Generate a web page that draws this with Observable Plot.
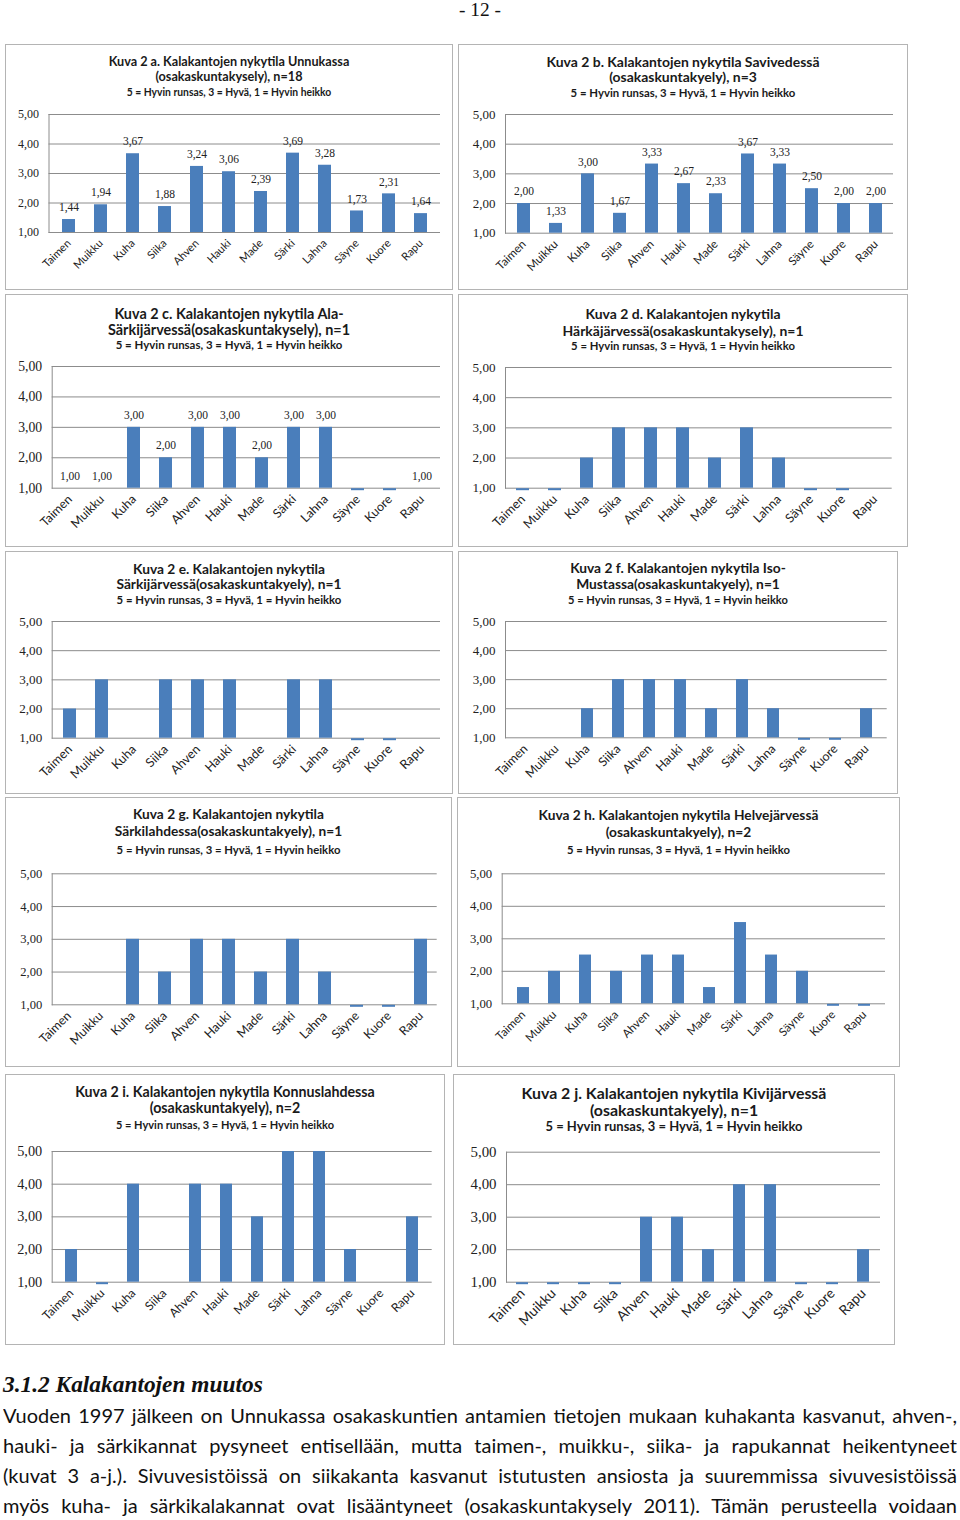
<!DOCTYPE html>
<html><head><meta charset="utf-8">
<script src="https://cdn.jsdelivr.net/npm/d3@7"></script>
<script src="https://cdn.jsdelivr.net/npm/@observablehq/plot@0.6"></script>
<style>
html,body{margin:0;padding:0;background:#fff;}
#page{position:relative;width:960px;height:1520px;overflow:hidden;background:#fff;}
.box{position:absolute;box-shadow:inset 0 0 0 1px #b4b4b4;background:#fff;}
.t{position:absolute;left:0;right:0;text-align:center;font-family:Lato,sans-serif;font-weight:700;color:#1a1a1a;white-space:nowrap;line-height:1;}
.box svg{position:absolute;left:0;top:0;}
.line{position:absolute;left:3px;width:954px;font-family:Lato,sans-serif;color:#111;text-align:justify;text-align-last:justify;line-height:1;overflow:hidden;}
</style></head><body><div id="page"></div>
<script>
// ---- data ----
const species = ["Taimen","Muikku","Kuha","Siika","Ahven","Hauki","Made","Särki","Lahna","Säyne","Kuore","Rapu"];
const yTicks = [1,2,3,4,5];
const subtitle = "5 = Hyvin runsas, 3 = Hyvä, 1 = Hyvin heikko";
// null = no bar, 0 = thin sliver on the axis
const valuesA = [1.44,1.94,3.67,1.88,3.24,3.06,2.39,3.69,3.28,1.73,2.31,1.64];
const valuesB = [2.00,1.33,3.00,1.67,3.33,2.67,2.33,3.67,3.33,2.50,2.00,2.00];
const valuesC = [1,1,3,2,3,3,2,3,3,0,0,1];
const valuesD = [0,0,2,3,3,3,2,3,2,0,0,null];
const valuesE = [2,3,null,3,3,3,null,3,3,0,0,null];
const valuesF = [null,null,2,3,3,3,2,3,2,0,0,2];
const valuesG = [null,null,3,2,3,3,2,3,2,0,0,3];
const valuesH = [1.5,2,2.5,2,2.5,2.5,1.5,3.5,2.5,2,0,0];
const valuesI = [2,0,4,null,4,4,3,5,5,2,null,3];
const valuesJ = [0,0,0,0,3,3,2,4,4,0,0,2];
const titleA = ["Kuva 2 a. Kalakantojen nykytila Unnukassa","(osakaskuntakysely), n=18"];
const titleB = ["Kuva 2 b. Kalakantojen nykytila Savivedessä","(osakaskuntakyely), n=3"];
const titleC = ["Kuva 2 c. Kalakantojen nykytila Ala-","Särkijärvessä(osakaskuntakysely), n=1"];
const titleD = ["Kuva 2 d. Kalakantojen nykytila","Härkäjärvessä(osakaskuntakysely), n=1"];
const titleE = ["Kuva 2 e. Kalakantojen nykytila","Särkijärvessä(osakaskuntakyely), n=1"];
const titleF = ["Kuva 2 f. Kalakantojen nykytila Iso-","Mustassa(osakaskuntakyely), n=1"];
const titleG = ["Kuva 2 g. Kalakantojen nykytila","Särkilahdessa(osakaskuntakyely), n=1"];
const titleH = ["Kuva 2 h. Kalakantojen nykytila Helvejärvessä","(osakaskuntakyely), n=2"];
const titleI = ["Kuva 2 i. Kalakantojen nykytila Konnuslahdessa","(osakaskuntakyely), n=2"];
const titleJ = ["Kuva 2 j. Kalakantojen nykytila Kivijärvessä","(osakaskuntakyely), n=1"];
const pageNumber = "- 12 -";
const heading = "3.1.2 Kalakantojen muutos";
const bodyLines = [
 "Vuoden 1997 jälkeen on Unnukassa osakaskuntien antamien tietojen mukaan kuhakanta kasvanut, ahven-,",
 "hauki- ja särkikannat pysyneet entisellään, mutta taimen-, muikku-, siika- ja rapukannat heikentyneet",
 "(kuvat 3 a-j.). Sivuvesistöissä on siikakanta kasvanut istutusten ansiosta ja suuremmissa sivuvesistöissä",
 "myös kuha- ja särkikalakannat ovat lisääntyneet (osakaskuntakysely 2011). Tämän perusteella voidaan"
];

// ---- layout (page pixels) ----
const panels = [
 {values:valuesA,title:titleA,labels:true, box:[5,44,453,290], plot:[48.5,440,114,232],   ty:[62,77,93],        w1:241,w3:205,yw:21,xfs:11},
 {values:valuesB,title:titleB,labels:true, box:[458,44,908,290],plot:[505,893,114,232.7],  ty:[63,78,93],        w1:273,w3:225,yw:22.7,xfs:11.6},
 {values:valuesC,title:titleC,labels:true, box:[5,294,453,547], plot:[51.7,440,366,487.7], ty:[315,330.7,345],   w1:230,w3:227,yw:24,xfs:12.4},
 {values:valuesD,title:titleD,labels:false,box:[458,294,908,547],plot:[505,891.7,367,487.7],ty:[315,331.7,346], w1:195,w3:224,yw:23,xfs:12.6},
 {values:valuesE,title:titleE,labels:false,box:[5,551,453,794], plot:[51.7,440,621,737.7], ty:[569.3,585,600],   w1:192,w3:225,yw:23,xfs:12.6},
 {values:valuesF,title:titleF,labels:false,box:[458,551,898,794],plot:[505,886.7,621,737.3],ty:[569,585,600],    w1:216,w3:220,yw:22.7,xfs:12.4},
 {values:valuesG,title:titleG,labels:false,box:[5,797,452,1067], plot:[51.7,436.7,873.3,1004.3],ty:[815,831.7,850],w1:191,w3:224,yw:22,xfs:12.4},
 {values:valuesH,title:titleH,labels:false,box:[457,797,900,1067],plot:[501.7,885,873.3,1003.3],ty:[815.7,832.3,850],w1:280,w3:223,yw:22.3,xfs:11.6},
 {values:valuesI,title:titleI,labels:false,box:[5,1074,445,1345],plot:[51.7,431.7,1151,1281.7],ty:[1092.7,1109.3,1125],w1:300,w3:218,yw:25,xfs:12.1},
 {values:valuesJ,title:titleJ,labels:false,box:[453,1074,895,1345],plot:[506,880,1151.7,1281.7],ty:[1094,1110.7,1127.3],w1:305,w3:257,yw:26,xfs:13.8}
];
const barColor = "#4a7ebb";
const gridColor = "#8c8c8c";
const numFont = "'Liberation Serif', serif";
const catFont = "Lato, sans-serif";
const fmt = v => v.toFixed(2).replace(".", ",");

const ctx = document.createElement("canvas").getContext("2d");
function fit(text, family, weight, target, style = "normal") {
  ctx.font = `${style} ${weight} 100px ${family}`;
  return 100 * target / ctx.measureText(text).width;
}

const page = document.getElementById("page");

// page number
{
  const fs = fit(pageNumber, "'Liberation Serif'", 400, 42);
  const d = document.createElement("div");
  d.textContent = pageNumber;
  Object.assign(d.style, {position:"absolute", left:"0", width:"960px", textAlign:"center", top:(10 - fs*0.55)+"px",
    fontFamily:"'Liberation Serif',serif", fontSize:fs+"px", lineHeight:"1.1", color:"#111"});
  page.appendChild(d);
}

panels.forEach(p => {
  const [bl, bt, br, bb] = p.box;
  const W = br - bl, H = bb - bt;
  const [pl, pr, py5, py1] = p.plot;
  const box = document.createElement("div");
  box.className = "box";
  Object.assign(box.style, {left: bl+"px", top: bt+"px", width: W+"px", height: H+"px"});
  page.appendChild(box);

  const data = species.map((s, i) => ({s, v: p.values[i]}));
  const bars = data.filter(d => d.v != null && d.v >= 1);
  const slivers = data.filter(d => d.v === 0);
  const yfs = fit("5,00", "'Liberation Serif'", 400, p.yw);

  const marks = [
    Plot.ruleY(yTicks, {stroke: gridColor, strokeWidth: 1}),
    Plot.frame({anchor: "left", stroke: gridColor}),
    Plot.barY(bars, {x: "s", y1: 1, y2: "v", fill: barColor}),
    Plot.tickY(slivers, {x: "s", y: 1, stroke: barColor, strokeWidth: 2, dy: 1}),
    Plot.axisY(yTicks, {tickSize: 0, tickPadding: 10, tickFormat: fmt, fontFamily: numFont, fontSize: yfs, fill: "#222", label: null}),
    Plot.axisX({tickSize: 0, tickPadding: 9, tickRotate: -45, fontFamily: catFont, fontSize: p.xfs, fill: "#222", label: null})
  ];
  if (p.labels) {
    marks.push(Plot.text(bars, {x: "s", y: "v", text: d => fmt(d.v), dy: -12, fontFamily: numFont, fontSize: 11.5, fill: "#222"}));
  }
  const svg = Plot.plot({
    width: W, height: H,
    marginLeft: pl - bl, marginRight: br - pr, marginTop: py5 - bt, marginBottom: bb - py1,
    style: {background: "transparent", overflow: "visible"},
    x: {domain: species, paddingInner: 0.6, paddingOuter: 0.3, label: null},
    y: {domain: [1, 5], label: null},
    marks
  });
  box.appendChild(svg);

  const fs1 = fit(p.title[0], "Lato", 700, p.w1);
  const fs3 = fit(subtitle, "Lato", 700, p.w3);
  [[p.title[0], fs1, p.ty[0]], [p.title[1], fs1, p.ty[1]], [subtitle, fs3, p.ty[2]]].forEach(([txt, fs, y]) => {
    const d = document.createElement("div");
    d.className = "t";
    d.textContent = txt;
    d.style.fontSize = fs + "px";
    d.style.top = (y - bt - fs * 0.55) + "px";
    box.appendChild(d);
  });
});

// heading
{
  const fs = fit(heading, "'Liberation Serif'", 700, 260, "italic");
  const d = document.createElement("div");
  d.textContent = heading;
  Object.assign(d.style, {position:"absolute", left:"3px", top:(1385 - fs*0.55)+"px", fontFamily:"'Liberation Serif',serif",
    fontStyle:"italic", fontWeight:"700", fontSize:fs+"px", lineHeight:"1.1", color:"#111", whiteSpace:"nowrap"});
  page.appendChild(d);
}
// body
{
  let fs = 20;
  ctx.font = `400 ${fs}px Lato`;
  const maxW = Math.max(...bodyLines.map(l => ctx.measureText(l).width));
  if (maxW > 945) fs = fs * 945 / maxW;
  const ys = [1415, 1445, 1475, 1505];
  bodyLines.forEach((l, i) => {
    const d = document.createElement("div");
    d.className = "line";
    d.textContent = l;
    Object.assign(d.style, {top:(ys[i] - fs*0.6)+"px", fontSize:fs+"px", height:(fs*1.25)+"px", lineHeight:(fs*1.2)+"px"});
    page.appendChild(d);
  });
}
</script></body></html>
